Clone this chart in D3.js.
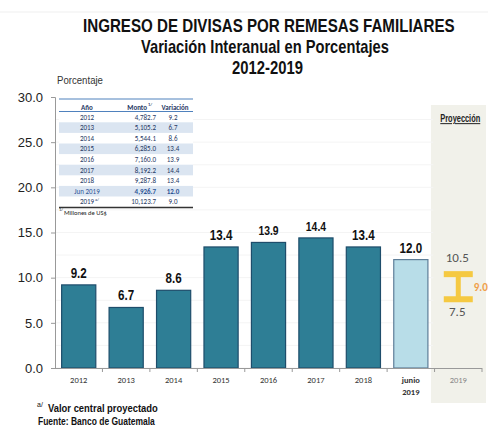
<!DOCTYPE html>
<html>
<head>
<meta charset="utf-8">
<script src="https://cdn.jsdelivr.net/npm/d3@7"></script>
<style>
  body { margin: 0; background: #fff; }
  svg { display: block; }
  .arial { font-family: "Liberation Sans", Arial, sans-serif; }
  .cal { font-family: Carlito, Calibri, "DejaVu Sans Condensed", sans-serif; }
</style>
</head>
<body>
<svg id="chart"></svg>
<script>
// chart data
const categories = ['2012', '2013', '2014', '2015', '2016', '2017', '2018', 'junio 2019'];
const variation = [9.2, 6.7, 8.6, 13.4, 13.9, 14.4, 13.4, 12.0];
const projCategory = '2019';
const projLow = 7.5;
const projHigh = 10.5;
const projCentral = 9.0;
const yTicks = [0, 5, 10, 15, 20, 25, 30];

// inset table
const tableYears = ['2012', '2013', '2014', '2015', '2016', '2017', '2018', 'Jun 2019', '2019'];
const tableMonto = ['4,782.7', '5,105.2', '5,544.1', '6,285.0', '7,160.0', '8,192.2', '9,287.8', '4,926.7', '10,123.7'];
const tableVar = ['9.2', '6.7', '8.6', '13.4', '13.9', '14.4', '13.4', '12.0', '9.0'];

const width = 488;
const height = 427;
const margin = { top: 97, right: 6, bottom: 59, left: 55 };
const plotW = width - margin.left - margin.right;
const plotH = height - margin.top - margin.bottom;

const svg = d3.select('#chart')
  .attr('width', width)
  .attr('height', height);

const x = d3.scaleBand()
  .domain([...categories, projCategory])
  .range([0, plotW])
  .paddingInner(0.28)
  .paddingOuter(0.14);

const y = d3.scaleLinear()
  .domain([0, 30])
  .range([plotH, 0]);

// squeeze a text horizontally so it spans w pixels from its left edge
function fitText(sel, x0, y0, w) {
  sel.attr('x', 0).attr('y', 0);
  const natural = sel.node().getComputedTextLength();
  sel.attr('transform', `translate(${x0},${y0}) scale(${w / natural},1)`);
  return sel;
}

// faint rule at the very top
svg.append('line')
  .attr('x1', 0).attr('x2', width)
  .attr('y1', 12).attr('y2', 12)
  .attr('stroke', '#efefef');

// titles (narrow bold face squeezed to the reference widths)
const titles = [
  { t: 'INGRESO DE DIVISAS POR REMESAS FAMILIARES', x: 83, y: 32, w: 372 },
  { t: 'Variación Interanual en Porcentajes', x: 141, y: 53, w: 248 },
  { t: '2012-2019', x: 232, y: 73.5, w: 71 },
];
titles.forEach((d) => {
  const t = svg.append('text')
    .attr('class', 'title arial')
    .attr('font-weight', 'bold')
    .attr('font-size', 18.5)
    .attr('fill', '#111')
    .text(d.t);
  fitText(t, d.x, d.y, d.w);
});

fitText(svg.append('text')
  .attr('class', 'arial')
  .attr('font-size', 11)
  .attr('fill', '#333')
  .text('Porcentaje'), 57, 84, 46);

const chart = svg.append('g')
  .attr('transform', `translate(${margin.left},${margin.top})`);

// projection shaded panel
const projX0 = x(projCategory) - x.step() * x.paddingInner() + 3;
chart.append('rect')
  .attr('x', projX0)
  .attr('y', 105 - margin.top)
  .attr('width', plotW + 4 - projX0)
  .attr('height', 403 - 105)
  .attr('fill', '#f1f1ea');

fitText(chart.append('text')
  .attr('class', 'arial')
  .attr('font-size', 10)
  .attr('font-weight', 'bold')
  .attr('text-decoration', 'underline')
  .attr('fill', '#222')
  .text('Proyección'), x(projCategory) + x.bandwidth() / 2 - 18, 122 - margin.top, 40);

// faint gridlines
chart.append('g')
  .selectAll('line')
  .data(d3.range(0, 30, 2.5))
  .join('line')
  .attr('x1', 0)
  .attr('x2', x(projCategory) - 8)
  .attr('y1', (d) => y(d))
  .attr('y2', (d) => y(d))
  .attr('stroke', '#f4f4f4');

// bars
const barData = categories.map((c, i) => ({ c, v: variation[i], last: i === categories.length - 1 }));
chart.selectAll('.bar')
  .data(barData)
  .join('rect')
  .attr('class', 'bar')
  .attr('x', (d) => x(d.c))
  .attr('y', (d) => y(d.v))
  .attr('width', x.bandwidth())
  .attr('height', (d) => plotH - y(d.v))
  .attr('fill', (d) => (d.last ? '#b8dde8' : '#2e7e95'))
  .attr('stroke', (d) => (d.last ? '#5e7e98' : '#1e4d6b'))
  .attr('stroke-width', 1.2);

chart.selectAll('.bar-label')
  .data(barData)
  .join('text')
  .attr('class', 'bar-label arial')
  .attr('transform', (d) => `translate(${x(d.c) + x.bandwidth() / 2},${y(d.v) - 7}) scale(0.8,1)`)
  .attr('text-anchor', 'middle')
  .attr('font-size', (d) => (d.v > 13.5 ? 13 : 14.5))
  .attr('font-weight', 'bold')
  .attr('fill', '#111')
  .text((d) => d3.format('.1f')(d.v));

// projection range marker
const pcx = x(projCategory) + x.bandwidth() / 2;
const capW = 29;
const marker = chart.append('g').attr('fill', '#f5c942');
marker.append('rect')
  .attr('x', pcx - capW / 2).attr('y', y(projHigh) - 2)
  .attr('width', capW).attr('height', 6);
marker.append('rect')
  .attr('x', pcx - capW / 2).attr('y', y(projLow) - 4)
  .attr('width', capW).attr('height', 6);
marker.append('rect')
  .attr('x', pcx - 2.5).attr('y', y(projHigh))
  .attr('width', 5).attr('height', y(projLow) - y(projHigh));

chart.append('text')
  .attr('class', 'cal')
  .attr('x', pcx - 1)
  .attr('y', y(projHigh) - 11)
  .attr('text-anchor', 'middle')
  .attr('font-size', 13)
  .attr('fill', '#555')
  .text(d3.format('.1f')(projHigh));
chart.append('text')
  .attr('class', 'cal')
  .attr('x', pcx - 1)
  .attr('y', y(projLow) + 16)
  .attr('text-anchor', 'middle')
  .attr('font-size', 13)
  .attr('fill', '#555')
  .text(d3.format('.1f')(projLow));
chart.append('text')
  .attr('class', 'cal')
  .attr('x', pcx + capW / 2 + 1)
  .attr('y', y(projCentral) + 4)
  .attr('font-size', 11)
  .attr('font-weight', 'bold')
  .attr('fill', '#f0a04b')
  .text(d3.format('.1f')(projCentral));

// y axis
const yAxis = d3.axisLeft(y)
  .tickValues(yTicks)
  .tickFormat(d3.format('.1f'))
  .tickSize(4)
  .tickPadding(8);
const yAxisG = chart.append('g').call(yAxis);
yAxisG.select('.domain').attr('stroke', '#999').attr('d', `M-4,0.5H0.5V${plotH}`);
yAxisG.selectAll('.tick line').attr('stroke', '#999');
yAxisG.selectAll('text')
  .attr('class', 'arial')
  .attr('font-size', 13)
  .attr('fill', '#222');

// x axis
const xAxisG = chart.append('g').attr('transform', `translate(0,${plotH})`);
xAxisG.append('line')
  .attr('x1', 0).attr('x2', plotW)
  .attr('y1', 0.5).attr('y2', 0.5)
  .attr('stroke', '#999');
xAxisG.selectAll('.xtick')
  .data([...categories, projCategory])
  .join('line')
  .attr('class', 'xtick')
  .attr('x1', (d) => x(d) + x.step() - x.step() * x.paddingInner() / 2)
  .attr('x2', (d) => x(d) + x.step() - x.step() * x.paddingInner() / 2)
  .attr('y1', 0)
  .attr('y2', 4)
  .attr('stroke', '#999');

const xLabels = xAxisG.selectAll('.xlabel')
  .data([...categories, projCategory])
  .join('text')
  .attr('class', 'xlabel cal')
  .attr('x', (d) => x(d) + x.bandwidth() / 2)
  .attr('y', 15)
  .attr('text-anchor', 'middle')
  .attr('font-size', 8.5)
  .attr('fill', (d) => (d === projCategory ? '#888' : '#333'))
  .attr('font-weight', (d) => (d === 'junio 2019' ? 'bold' : 'normal'));
xLabels.each(function (d) {
  const parts = d.split(' ');
  d3.select(this).selectAll('tspan')
    .data(parts)
    .join('tspan')
    .attr('x', x(d) + x.bandwidth() / 2)
    .attr('dy', (p, i) => (i === 0 ? 0 : 11.5))
    .text((p) => p);
});

// inset table
const tbl = svg.append('g').attr('class', 'cal');
const rowH = 10.6;
const tblX0 = 59;
const tblX1 = 193;
const headY = 107;
const firstRowY = 117;
tbl.append('rect')
  .attr('x', tblX0).attr('y', 99)
  .attr('width', tblX1 - tblX0).attr('height', 109)
  .attr('fill', '#fff');
tbl.selectAll('.stripe')
  .data(tableYears.map((d, i) => i).filter((i) => i % 2 === 1))
  .join('rect')
  .attr('class', 'stripe')
  .attr('x', tblX0)
  .attr('y', (i) => firstRowY + i * rowH - rowH / 2)
  .attr('width', tblX1 - tblX0)
  .attr('height', rowH)
  .attr('fill', '#dbe5f1');
tbl.append('line')
  .attr('x1', tblX0).attr('x2', tblX1).attr('y1', 99).attr('y2', 99)
  .attr('stroke', '#4f81bd').attr('stroke-width', 1);
tbl.append('line')
  .attr('x1', tblX0).attr('x2', tblX1).attr('y1', 111.5).attr('y2', 111.5)
  .attr('stroke', '#4f81bd').attr('stroke-width', 1);
tbl.append('line')
  .attr('x1', tblX0).attr('x2', tblX1).attr('y1', 207.5).attr('y2', 207.5)
  .attr('stroke', '#333').attr('stroke-width', 1.5);

const headers = [
  { t: 'Año', x: 87, anchor: 'middle' },
  { t: 'Monto', x: 147, anchor: 'end' },
  { t: 'Variación', x: 175, anchor: 'middle' },
];
tbl.selectAll('.head')
  .data(headers)
  .join('text')
  .attr('class', 'head')
  .attr('x', (d) => d.x)
  .attr('y', headY + 2.5)
  .attr('text-anchor', (d) => d.anchor)
  .attr('font-size', 7)
  .attr('font-weight', 'bold')
  .attr('fill', '#1f3864')
  .text((d) => d.t);
tbl.append('text')
  .attr('x', 148).attr('y', headY - 1.5)
  .attr('font-size', 4.5).attr('font-weight', 'bold').attr('fill', '#1f3864')
  .text('1/');

const rows = tbl.selectAll('.row')
  .data(tableYears.map((yr, i) => ({ yr, m: tableMonto[i], v: tableVar[i], i })))
  .join('g')
  .attr('class', 'row')
  .attr('transform', (d) => `translate(0,${firstRowY + d.i * rowH + 2.5})`)
  .attr('font-size', 7)
  .attr('fill', (d) => (d.yr === 'Jun 2019' ? '#2f5597' : '#1f3864'))
  .attr('font-weight', (d) => (d.yr === 'Jun 2019' ? 'bold' : 'normal'));
rows.append('text')
  .attr('x', 87).attr('text-anchor', 'middle')
  .attr('font-weight', 'normal')
  .text((d) => d.yr);
rows.append('text')
  .attr('x', 156).attr('text-anchor', 'end')
  .text((d) => d.m);
rows.append('text')
  .attr('x', 173).attr('text-anchor', 'middle')
  .text((d) => d.v);
// superscript on the projected year
tbl.append('text')
  .attr('x', 95).attr('y', firstRowY + 8 * rowH - 1)
  .attr('font-size', 4.5).attr('fill', '#1f3864')
  .text('a/');

tbl.append('text')
  .attr('x', 59).attr('y', 211)
  .attr('font-size', 4.5).attr('fill', '#222')
  .text('1/');
tbl.append('text')
  .attr('x', 64).attr('y', 215)
  .attr('font-size', 6.5).attr('fill', '#222')
  .text('Millones de US$');

// footnotes
svg.append('text')
  .attr('class', 'arial')
  .attr('x', 37).attr('y', 407)
  .attr('font-size', 7).attr('fill', '#111')
  .text('a/');
fitText(svg.append('text')
  .attr('class', 'arial')
  .attr('font-size', 11.5).attr('font-weight', 'bold').attr('fill', '#111')
  .text('Valor central proyectado'), 48, 412, 110);
fitText(svg.append('text')
  .attr('class', 'arial')
  .attr('font-size', 11.5).attr('font-weight', 'bold').attr('fill', '#111')
  .text('Fuente: Banco de Guatemala'), 38, 424.5, 117);
</script>
</body>
</html>
